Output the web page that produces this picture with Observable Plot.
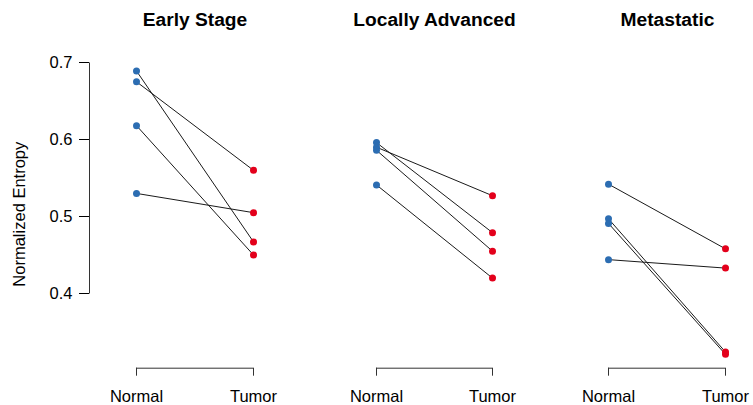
<!DOCTYPE html>
<html><head><meta charset="utf-8">
<script src="https://cdn.jsdelivr.net/npm/d3@7"></script>
<script src="https://cdn.jsdelivr.net/npm/@observablehq/plot@0.6"></script>
<style>
html,body{margin:0;padding:0;background:#fff;}
#chart{display:flex;width:753px;height:405px;}
#chart svg{display:block;}
</style></head><body><div id="chart"></div>
<script>
// ---- data ----
const stages = ["Early Stage", "Locally Advanced", "Metastatic"];
const conditions = ["Normal", "Tumor"];
const normalEarly = [0.689, 0.675, 0.618, 0.530];
const tumorEarly = [0.467, 0.560, 0.450, 0.505];
const normalLocal = [0.596, 0.590, 0.586, 0.541];
const tumorLocal = [0.479, 0.527, 0.455, 0.420];
const normalMeta = [0.542, 0.497, 0.491, 0.444];
const tumorMeta = [0.458, 0.324, 0.321, 0.433];
const yTicks = [0.4, 0.5, 0.6, 0.7];
const yLabel = "Normalized Entropy";

const normalValues = [normalEarly, normalLocal, normalMeta];
const tumorValues = [tumorEarly, tumorLocal, tumorMeta];

// ---- layout / style ----
const yDomain = [0.303, 0.703];
const colors = ["#2c6db2", "#e3001b"];
const font = "'Liberation Sans', Arial, Helvetica, sans-serif";
const layout = [
  {width: 314, marginLeft: 89, marginRight: 14, inset: 46.7},
  {width: 240, marginLeft: 0, marginRight: 0, inset: 61.7},
  {width: 199, marginLeft: 27, marginRight: 0, inset: 27.3}
];

const container = document.getElementById("chart");

stages.forEach((stage, i) => {
  const rows = [];
  normalValues[i].forEach((v, j) => {
    rows.push({pair: j, cond: conditions[0], value: v});
    rows.push({pair: j, cond: conditions[1], value: tumorValues[i][j]});
  });
  const L = layout[i];
  const marks = [];
  if (i === 0) {
    marks.push(Plot.axisY({
      ticks: yTicks, tickSize: 10, tickPadding: 7, tickFormat: d3.format(".1f"),
      fontSize: 16.5, label: yLabel, labelAnchor: "center", labelOffset: 76, labelArrow: "none"
    }));
  }
  marks.push(
    Plot.ruleY([{y: yDomain[0], a: conditions[0], b: conditions[1]}], {y: "y", x1: "a", x2: "b", stroke: "#333", strokeWidth: 1}),
    Plot.axisX({tickSize: 8, tickPadding: 14.5, fontSize: 16.5, label: null, stroke: "#333"}),
    Plot.line(rows, {x: "cond", y: "value", z: "pair", stroke: "#1a1a1a", strokeWidth: 1}),
    Plot.dot(rows, {x: "cond", y: "value", fill: "cond", r: 3.5}),
    Plot.text([stage], {text: d => d, frameAnchor: "top", dy: -48, fontSize: 19.2, fontWeight: "bold"})
  );
  const plot = Plot.plot({
    width: L.width, height: 405,
    marginTop: 59.7, marginBottom: 37.3, marginLeft: L.marginLeft, marginRight: L.marginRight,
    style: {fontFamily: font, fontSize: "16px", background: "white", color: "black", overflow: "visible"},
    x: {type: "point", domain: conditions, padding: 0, insetLeft: L.inset, insetRight: L.inset},
    y: {domain: yDomain, axis: i === 0 ? undefined : null},
    color: {domain: conditions, range: colors},
    marks
  });
  if (i === 0) {
    const sy = plot.scale("y");
    d3.select(plot).append("line")
      .attr("x1", L.marginLeft + 0.5).attr("x2", L.marginLeft + 0.5)
      .attr("y1", sy.apply(yTicks[0]) + 0.5).attr("y2", sy.apply(yTicks[yTicks.length - 1]) + 0.5)
      .attr("stroke", "#333").attr("stroke-width", 1);
    d3.select(plot).selectAll("[aria-label='y-axis label']").attr("font-size", 16.5)
      .selectAll("text").attr("font-size", 16.5);
  }
  container.appendChild(plot);
});
</script>
</body></html>
